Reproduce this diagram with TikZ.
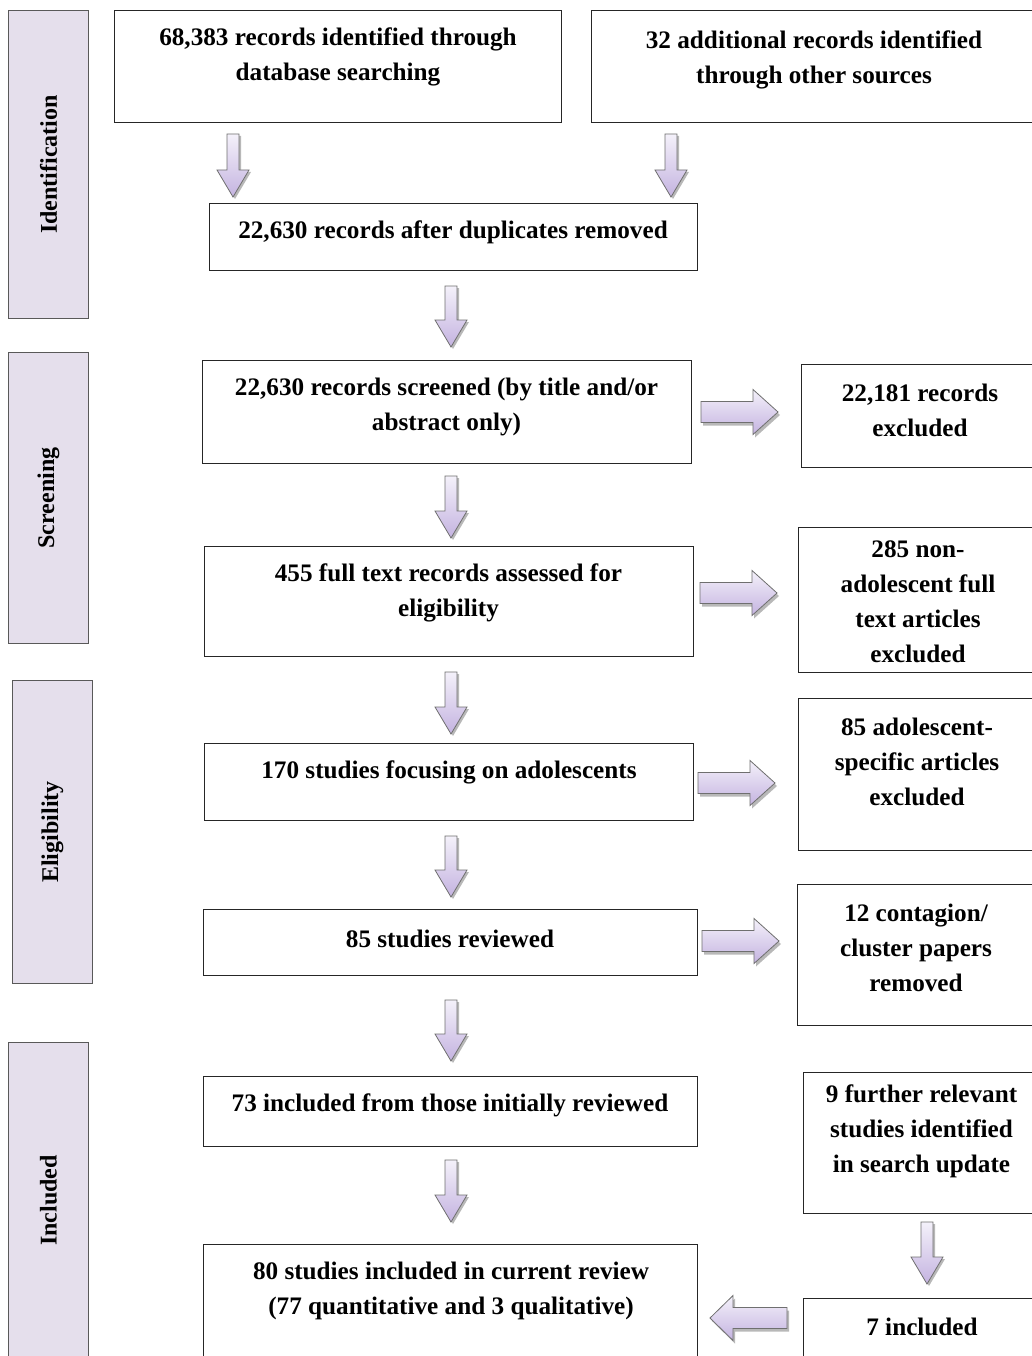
\documentclass[tikz,border=0pt]{standalone}
\usepackage{fontspec}
\setmainfont{Liberation Serif}
\usetikzlibrary{calc}
\definecolor{sidefill}{HTML}{E5DFEC}
\definecolor{arrtop}{HTML}{F4F1FA}
\definecolor{arrbot}{HTML}{C4B3E0}
\definecolor{arredge}{HTML}{6F6F6F}
\tikzset{
  box/.style={draw=black!85, line width=1pt, fill=white, inner sep=0pt, anchor=north west},
  side/.style={draw=black!65, line width=1pt, fill=sidefill, inner sep=0pt, anchor=north west},
  txt/.style={align=center, font=\fontsize{25.2}{35}\selectfont\bfseries, inner sep=0pt, yshift=-3pt},
  sidetxt/.style={rotate=90, font=\fontsize{24}{28}\selectfont\bfseries, inner sep=0pt},
  blk/.style={draw=arredge, line width=0.8pt, top color=arrtop, bottom color=arrbot, line join=miter},
  blkshadow/.style={fill=black, opacity=0.28},
}
% vertical block arrow: x, ytop, ytip
\newcommand\blkdown[3]{%
  \fill[blkshadow] ({#1-6+2},{#2+2}) -- ({#1+6+2},{#2+2}) -- ({#1+6+2},{#3-27+2}) -- ({#1+16+2},{#3-27+2}) -- ({#1+2},{#3+2}) -- ({#1-16+2},{#3-27+2}) -- ({#1-6+2},{#3-27+2}) -- cycle;
  \draw[blk] ({#1-6},{#2}) -- ({#1+6},{#2}) -- ({#1+6},{#3-27}) -- ({#1+16},{#3-27}) -- ({#1},{#3}) -- ({#1-16},{#3-27}) -- ({#1-6},{#3-27}) -- cycle;}
% horizontal block arrow: xstart, xtip, yc, headlen (signed)
\newcommand\blkhor[4]{%
  \fill[blkshadow] ({#1+2},{#3-10.5+3}) -- ({#2-#4+2},{#3-10.5+3}) -- ({#2-#4+2},{#3-22.5+3}) -- ({#2+2},{#3+3}) -- ({#2-#4+2},{#3+22.5+3}) -- ({#2-#4+2},{#3+10.5+3}) -- ({#1+2},{#3+10.5+3}) -- cycle;
  \draw[blk] ({#1},{#3-10.5}) -- ({#2-#4},{#3-10.5}) -- ({#2-#4},{#3-22.5}) -- ({#2},{#3}) -- ({#2-#4},{#3+22.5}) -- ({#2-#4},{#3+10.5}) -- ({#1},{#3+10.5}) -- cycle;}
\begin{document}
\begin{tikzpicture}[x=1pt,y=-1pt]
\useasboundingbox (0,0) rectangle (1032,1356);
\clip (0,0) rectangle (1032,1356);
\fill[white] (0,0) rectangle (1032,1356);

% side labels
\node[side, minimum width=80, minimum height=308] (s1) at (8,10) {};
\node[sidetxt] (s1t) at (s1.center) {Identification};
\node[side, minimum width=80, minimum height=291] (s2) at (8,352) {};
\node[sidetxt] (s2t) at (s2.center) {Screening};
\node[side, minimum width=80, minimum height=303] (s3) at (12,680) {};
\node[sidetxt] (s3t) at (s3.center) {Eligibility};
\node[side, minimum width=80, minimum height=316] (s4) at (8,1042) {};
\node[sidetxt] (s4t) at (s4.center) {Included};

% main boxes
\node[box, minimum width=447, minimum height=112] (A) at (114,10) {};
\node[txt] (At) at (338,53.5) {68,383 records identified through\\database searching};
\node[box, minimum width=449, minimum height=112] (B) at (591,10) {};
\node[txt] (Bt) at (814,56.5) {32 additional records identified\\through other sources};
\node[box, minimum width=488, minimum height=67] (C) at (209,203) {};
\node[txt] (Ct) at (453,229) {22,630 records after duplicates removed};
\node[box, minimum width=489, minimum height=103] (D) at (202,360) {};
\node[txt] (Dt) at (446.5,403.5) {22,630 records screened (by title and/or\\abstract only)};
\node[box, minimum width=239, minimum height=103] (E) at (801,364) {};
\node[txt] (Et) at (920,407.5) {22,181 records\\excluded};
\node[box, minimum width=489, minimum height=110] (F) at (204,546) {};
\node[txt] (Ft) at (448.5,590) {455 full text records assessed for\\eligibility};
\node[box, minimum width=242, minimum height=145] (G) at (798,527) {};
\node[txt] (Gt) at (918,598.5) {285 non-\\adolescent full\\text articles\\excluded};
\node[box, minimum width=489, minimum height=77] (H) at (204,743) {};
\node[txt] (Ht) at (449,769) {170 studies focusing on adolescents};
\node[box, minimum width=242, minimum height=152] (I) at (798,698) {};
\node[txt] (It) at (917,759) {85 adolescent-\\specific articles\\excluded};
\node[box, minimum width=494, minimum height=66] (J) at (203,909) {};
\node[txt] (Jt) at (450,936) {85 studies reviewed};
\node[box, minimum width=243, minimum height=141] (K) at (797,884) {};
\node[txt] (Kt) at (916,945) {12 contagion/\\cluster papers\\removed};
\node[box, minimum width=494, minimum height=70] (L) at (203,1076) {};
\node[txt] (Lt) at (450,1102) {73 included from those initially reviewed};
\node[box, minimum width=237, minimum height=141] (M) at (803,1072) {};
\node[txt] (Mt) at (921.5,1128) {9 further relevant\\studies identified\\in search update};
\node[box, minimum width=494, minimum height=130] (N) at (203,1244) {};
\node[txt] (Nt) at (451,1287.5) {80 studies included in current review\\(77 quantitative and 3 qualitative)};
\node[box, minimum width=237, minimum height=80] (O) at (803,1298) {};
\node[txt] (Ot) at (922,1324) {7 included};

% block arrows
\blkdown{233}{134}{197}
\blkdown{671}{134}{197}
\blkdown{451}{286}{347}
\blkdown{451}{476}{538}
\blkdown{451}{672}{734}
\blkdown{451}{836}{897}
\blkdown{451}{1000}{1061}
\blkdown{451}{1160}{1222}
\blkdown{927}{1222}{1284}
\blkhor{701}{778}{412}{25}
\blkhor{700}{777}{593}{25}
\blkhor{698}{775}{783}{25}
\blkhor{702}{779}{941}{25}
\blkhor{787}{710}{1318}{-23}
\end{tikzpicture}
\end{document}
